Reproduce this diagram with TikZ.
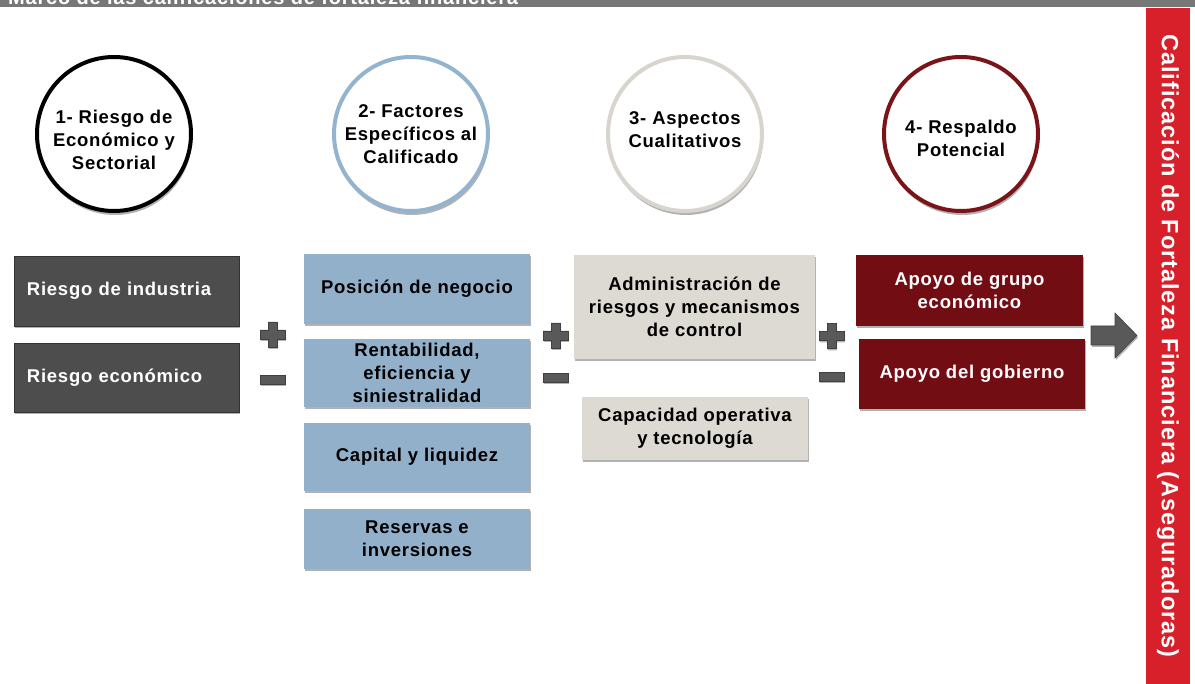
\documentclass[tikz,border=0pt]{standalone}
\usepackage{fontspec}
\setmainfont{Liberation Sans}[LetterSpace=4]
\usepackage{tikz}
\usetikzlibrary{positioning}
\usetikzlibrary{shadows}
\definecolor{topgray}{HTML}{777777}
\definecolor{boxgray}{HTML}{4D4D4D}
\definecolor{boxblue}{HTML}{92B0CA}
\definecolor{boxsand}{HTML}{DDD9D3}
\definecolor{boxwine}{HTML}{720D14}
\definecolor{ringblue}{HTML}{93B3CE}
\definecolor{ringsand}{HTML}{D8D4CE}
\definecolor{ringwine}{HTML}{7A1418}
\definecolor{barred}{HTML}{D8202A}
\definecolor{signgray}{HTML}{595959}
\tikzset{softshadow/.style = {drop shadow={shadow xshift=1pt, shadow yshift=-2pt,
                                            opacity=0.3, fill=black}}}
\tikzset{ring/.style = {circle, draw=#1, line width=4pt, fill=white,
                        minimum size=154pt, inner sep=0pt,
                        drop shadow={shadow xshift=1pt, shadow yshift=-4pt,
                                     opacity=0.3, fill=black}}}
\tikzset{ringtext/.style = {inner sep=0pt, align=center,
                            font=\bfseries\fontsize{18.5}{23}\selectfont}}
\tikzset{card/.style = {rectangle, inner sep=0pt, align=center,
                        font=\bfseries\fontsize{18.5}{23}\selectfont, softshadow}}
\tikzset{graycard/.style = {card, fill=boxgray, draw=black!80, line width=0.6pt,
                            text=white, text width=199pt, align=left}}
\tikzset{bluecard/.style = {card, fill=boxblue}}
\tikzset{sandcard/.style = {card, fill=boxsand}}
\tikzset{winecard/.style = {card, fill=boxwine, text=white}}
\tikzset{sign/.style = {fill=signgray, draw=black!75, line width=0.6pt, softshadow}}
\tikzset{plussign/.pic = {\path[sign] (-12.5,-4.5) -| (-4.5,-12.5) -| (4.5,-4.5)
                            -| (12.5,4.5) -| (4.5,12.5) -| (-4.5,4.5)
                            -| (-12.5,-4.5) -- cycle;}}
\tikzset{minussign/.pic = {\path[sign] (-12.5,-4.5) rectangle (12.5,4.5);}}

\begin{document}
\begin{tikzpicture}[x=1pt, y=-1pt]
      \useasboundingbox (0, 0) rectangle (1195, 684);

      \fill [topgray] (0, 0) rectangle (1195, 7.5);
      \node [anchor=base west, inner sep=0pt, text=white,
             font=\bfseries\fontsize{20}{22}\selectfont] (title) at (8, 4.5)
        {Marco de las calificaciones de fortaleza financiera};

      \node [ring=black] (c1) at (114, 134) {};
      \node [ring=ringblue] (c2) at (411, 134) {};
      \node [ring=ringsand] (c3) at (685, 134) {};
      \node [ring=ringwine] (c4) at (961, 134) {};
      \node [ringtext] (t1) at ([yshift=-6pt]c1.center) {1- Riesgo de\\Económico y\\Sectorial};
      \node [ringtext] (t2) at (c2.center) {2- Factores\\Específicos al\\Calificado};
      \node [ringtext] (t3) at ([yshift=4pt]c3.center) {3- Aspectos\\Cualitativos};
      \node [ringtext] (t4) at ([yshift=-4pt]c4.center) {4- Respaldo\\Potencial};

      \node [graycard, minimum width=225pt, minimum height=70pt] (ind) at (126.5, 291)
        {Riesgo de industria};
      \node [graycard, minimum width=225pt, minimum height=69pt] (eco) at (126.5, 377.5)
        {Riesgo económico};

      \node [bluecard, minimum width=226pt, minimum height=70pt] (pos) at (417, 289)
        {Posición de negocio};
      \node [bluecard, minimum width=226pt, minimum height=68pt] (ren) at (417, 373)
        {Rentabilidad,\\eficiencia y\\siniestralidad};
      \node [bluecard, minimum width=226pt, minimum height=68pt] (cap) at (417, 457)
        {Capital y liquidez};
      \node [bluecard, minimum width=226pt, minimum height=60pt] (rsv) at (417, 539)
        {Reservas e\\inversiones};

      \node [sandcard, minimum width=241pt, minimum height=104pt] (adm) at (694.5, 307)
        {Administración de\\riesgos y mecanismos\\de control};
      \node [sandcard, minimum width=226pt, minimum height=63pt] (ope) at (695, 428.5)
        {Capacidad operativa\\y tecnología};

      \node [winecard, minimum width=227pt, minimum height=71pt] (gru) at (969.5, 290.5)
        {Apoyo de grupo\\económico};
      \node [winecard, minimum width=226pt, minimum height=70pt] (gob) at (972, 374)
        {Apoyo del gobierno};

      \pic at (272.5, 334.5) {plussign};
      \pic at (272.5, 379.5) {minussign};
      \pic at (555.5, 335.5) {plussign};
      \pic at (555.5, 378) {minussign};
      \pic at (831.5, 336) {plussign};
      \pic at (831.5, 377) {minussign};

      \path [sign] (1091, 326) -- (1115, 326) -- (1115, 313) -- (1137, 335.5)
        -- (1115, 358) -- (1115, 345) -- (1091, 345) -- cycle;

      \node [rectangle, fill=barred, rotate=-90, minimum width=676pt,
             minimum height=44pt, inner sep=0pt, text=white,
             font=\bfseries\fontsize{23.5}{26}\selectfont] (bar) at (1168, 346)
        {Calificación de Fortaleza Financiera (Aseguradoras)};
    \end{tikzpicture}
\end{document}
